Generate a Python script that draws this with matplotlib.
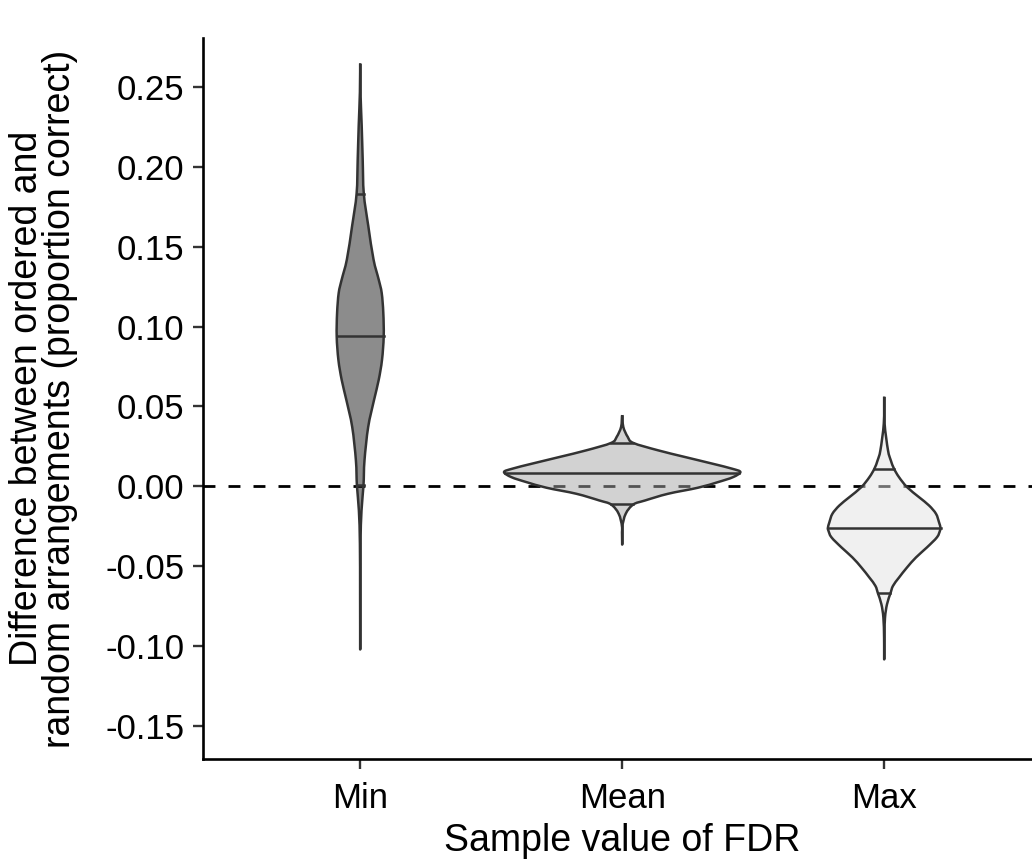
import numpy as np
import matplotlib
matplotlib.use("Agg")
import matplotlib.pyplot as plt
from matplotlib.path import Path
from matplotlib.patches import PathPatch

plt.rcParams['font.family'] = ['Liberation Sans', 'DejaVu Sans']

# ---- data ----
categories = ["Min", "Mean", "Max"]

min_y = [0.2645, 0.2467, 0.2257, 0.2048, 0.1832, 0.1629, 0.1420, 0.1294, 0.1210,
         0.1085, 0.0938, 0.0791, 0.0666, 0.0540, 0.0372, 0.0163, 0.0006, -0.0151,
         -0.0360, -0.0674, -0.1020]
min_w = [0.0, 0.0011, 0.0057, 0.0095, 0.0137, 0.0309, 0.0508, 0.0706, 0.0821,
         0.0882, 0.0897, 0.0832, 0.0706, 0.0527, 0.0305, 0.0164, 0.0126, 0.0050,
         0.0011, 0.0004, 0.0]

mean_y = [0.0446, 0.0372, 0.0310, 0.0272, 0.0226, 0.0184, 0.0143, 0.0111, 0.0090,
          0.0058, 0.0027, -0.0008, -0.0046, -0.0088, -0.0113, -0.0171, -0.0256, -0.0364]
mean_w = [0.0, 0.0042, 0.0210, 0.0424, 0.1366, 0.2397, 0.3427, 0.4191, 0.4511,
          0.4229, 0.3656, 0.2893, 0.1748, 0.0870, 0.0424, 0.0134, 0.0004, 0.0]

max_y = [0.0561, 0.0394, 0.0226, 0.0163, 0.0111, 0.0058, -0.0004, -0.0067, -0.0119,
         -0.0171, -0.0224, -0.0259, -0.0276, -0.0318, -0.0381, -0.0444, -0.0507,
         -0.0570, -0.0622, -0.0668, -0.0737, -0.0821, -0.0947, -0.1082]
max_w = [0.0, 0.0015, 0.0145, 0.0252, 0.0374, 0.0565, 0.0870, 0.1328, 0.1710,
         0.1977, 0.2092, 0.2149, 0.2130, 0.2015, 0.1634, 0.1214, 0.0870, 0.0565,
         0.0336, 0.0240, 0.0107, 0.0031, 0.0004, 0.0]

quantiles = {
    "Min": [0.0006, 0.0938, 0.1832],
    "Mean": [-0.0113, 0.0084, 0.0272],
    "Max": [-0.0668, -0.0259, 0.0111],
}

fills = {"Min": "#1a1a1a", "Mean": "#a7a7a7", "Max": "#e2e2e2"}
profiles = {"Min": (min_y, min_w), "Mean": (mean_y, mean_w), "Max": (max_y, max_w)}

yticks = [-0.15, -0.10, -0.05, 0.00, 0.05, 0.10, 0.15, 0.20, 0.25]
ytick_labels = ["-0.15", "-0.10", "-0.05", "0.00", "0.05", "0.10", "0.15", "0.20", "0.25"]


def smooth_closed_path(pts):
    """Closed path through the given outline points using cubic Bezier segments."""
    n = len(pts)
    verts = [pts[0]]
    codes = [Path.MOVETO]
    for i in range(n):
        p0 = pts[(i - 1) % n]
        p1 = pts[i]
        p2 = pts[(i + 1) % n]
        p3 = pts[(i + 2) % n]
        c1 = p1 + (p2 - p0) / 6.0
        c2 = p2 - (p3 - p1) / 6.0
        verts += [c1, c2, p2]
        codes += [Path.CURVE4] * 3
    return Path(np.array(verts), codes)


# ---- figure ----
W, H = 1032, 861
fig = plt.figure(figsize=(W / 100, H / 100), dpi=100)
left_px, right_px, top_px, bot_px = 203, 1041.4, 38, 759
ax = fig.add_axes([left_px / W, (H - bot_px) / H, (right_px - left_px) / W, (bot_px - top_px) / H])

ax.axhline(0, color="black", lw=2.0, linestyle=(0, (4.3, 4.7)), zorder=1)

edge = "#333333"
for i, cat in enumerate(categories):
    xc = i + 1
    ys, ws = profiles[cat]
    ys = np.asarray(ys)
    ws = np.asarray(ws)
    left = np.column_stack([xc - ws, ys])                 # top -> bottom
    right = np.column_stack([xc + ws, ys])[-2:0:-1]       # bottom -> top (tips not repeated)
    pts = np.vstack([left, right])
    path = smooth_closed_path(pts)
    ax.add_patch(PathPatch(path, facecolor=fills[cat], alpha=0.5, edgecolor="none", zorder=2))
    ax.add_patch(PathPatch(path, facecolor="none", edgecolor=edge, lw=1.8,
                           joinstyle="round", zorder=3))
    order = np.argsort(ys)
    for q in quantiles[cat]:
        hw = np.interp(q, ys[order], ws[order])
        ax.plot([xc - hw, xc + hw], [q, q], color=edge, lw=1.8, zorder=3)

ax.set_xlim(0.4, 3.6)
ax.set_ylim(-0.1705, 0.2805)
ax.set_xticks([1, 2, 3])
ax.set_xticklabels(categories)
ax.set_yticks(yticks)
ax.set_yticklabels(ytick_labels)

for s in ["top", "right"]:
    ax.spines[s].set_visible(False)
for s in ["left", "bottom"]:
    ax.spines[s].set_linewidth(1.9)
    ax.spines[s].set_color("black")
ax.tick_params(axis="both", direction="out", length=7.4, width=1.7, color="#333333",
               labelsize=25, labelcolor="black", pad=6)
ax.tick_params(axis="x", pad=9)

ax.set_xlabel("Sample value of FDR", fontsize=27, labelpad=6)
ax.set_ylabel("Difference between ordered and\nrandom arrangements (proportion correct)",
              fontsize=27, linespacing=0.88)
ax.yaxis.set_label_coords((78 - left_px) / (right_px - left_px), 0.5)

fig.savefig("out.png", dpi=100)
